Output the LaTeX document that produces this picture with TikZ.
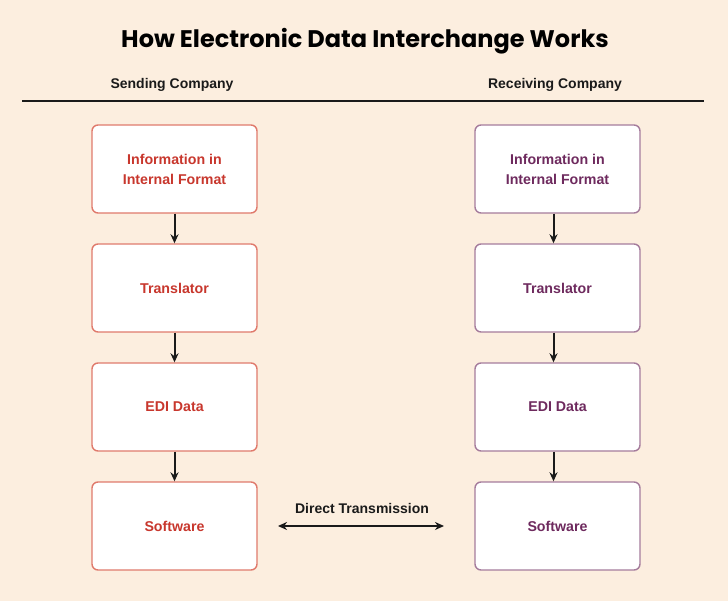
\documentclass[tikz,border=0pt]{standalone}
\usepackage{fontspec}
\setmainfont{Liberation Sans}
\newfontfamily\titlefont{Poppins}
\usetikzlibrary{arrows.meta}
\definecolor{bg}{HTML}{FCEEDF}
\definecolor{lborder}{HTML}{E07A6C}
\definecolor{ltext}{HTML}{C8372D}
\definecolor{rborder}{HTML}{A57C9C}
\definecolor{rtext}{HTML}{6E2A5E}
\definecolor{ink}{HTML}{1A1A1A}
\tikzset{
  lbox/.style={draw=lborder, line width=1.4pt, fill=white, rounded corners=6pt,
    minimum width=165pt, minimum height=88pt, align=center, text=ltext,
    font=\fontsize{14.2}{20}\selectfont\bfseries, inner sep=0pt},
  rbox/.style={lbox, draw=rborder, text=rtext},
  flow/.style={draw=ink, line width=2pt, -{Stealth[length=9pt,width=8pt]}},
  head/.style={font=\fontsize{14}{16}\selectfont\bfseries, text=ink},
}
\begin{document}
\begin{tikzpicture}[x=1pt,y=-1pt]
\fill[bg] (0,0) rectangle (728,601);
\useasboundingbox (0,0) rectangle (728,601);
\node[font=\titlefont\fontsize{24}{26}\selectfont\bfseries, text=black] (title) at (365,41) {How Electronic Data Interchange Works};
\node[head] (send) at (172,85) {Sending Company};
\node[head] (recv) at (555,85) {Receiving Company};
\coordinate (la) at (22,101);
\coordinate (lb) at (704,101);
\draw[ink, line width=2pt] (la) -- (lb);

\node[lbox] (l1) at (174.5,169) {Information in\\Internal Format};
\node[lbox] (l2) at (174.5,288) {Translator};
\node[lbox] (l3) at (174.5,407) {EDI Data};
\node[lbox] (l4) at (174.5,526) {Software};

\node[rbox] (r1) at (557.5,169) {Information in\\Internal Format};
\node[rbox] (r2) at (557.5,288) {Translator};
\node[rbox] (r3) at (557.5,407) {EDI Data};
\node[rbox] (r4) at (557.5,526) {Software};

\draw[flow] (l1.south) -- (l2.north);
\draw[flow] (l2.south) -- (l3.north);
\draw[flow] (l3.south) -- (l4.north);
\draw[flow] ([xshift=-4pt]r1.south) -- ([xshift=-4pt]r2.north);
\draw[flow] ([xshift=-4pt]r2.south) -- ([xshift=-4pt]r3.north);
\draw[flow] ([xshift=-4pt]r3.south) -- ([xshift=-4pt]r4.north);

\coordinate (da) at (278,526);
\coordinate (db) at (444,526);
\draw[draw=ink, line width=2pt, {Stealth[length=9pt,width=8pt]}-{Stealth[length=9pt,width=8pt]}] (da) -- (db);
\node[head] (dt) at (362,508) {Direct Transmission};
\end{tikzpicture}
\end{document}
